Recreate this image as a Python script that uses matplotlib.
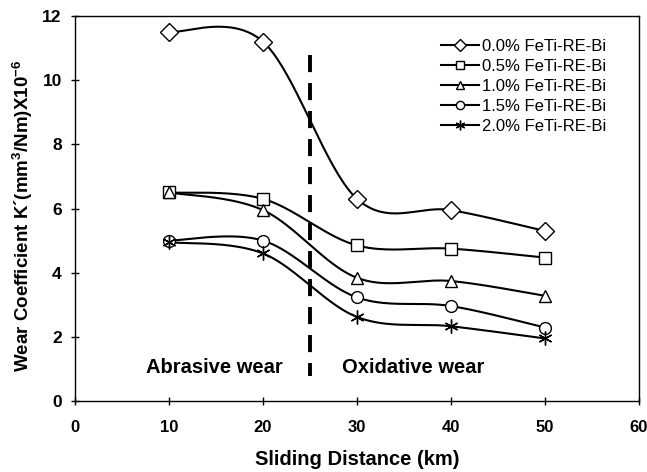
import numpy as np
import matplotlib
matplotlib.use("Agg")
import matplotlib.pyplot as plt

plt.rcParams['font.family'] = ['Liberation Sans', 'DejaVu Sans']
plt.rcParams['mathtext.fontset'] = 'custom'
plt.rcParams['mathtext.rm'] = 'Liberation Sans:bold'
plt.rcParams['mathtext.default'] = 'rm'

distance = [10, 20, 30, 40, 50]
series_labels = ['0.0% FeTi-RE-Bi', '0.5% FeTi-RE-Bi', '1.0% FeTi-RE-Bi',
                 '1.5% FeTi-RE-Bi', '2.0% FeTi-RE-Bi']
k_00 = [11.5, 11.2, 6.3, 5.95, 5.3]
k_05 = [6.5, 6.3, 4.85, 4.75, 4.47]
k_10 = [6.5, 5.95, 3.84, 3.74, 3.28]
k_15 = [5.0, 5.0, 3.23, 2.96, 2.29]
k_20 = [4.95, 4.6, 2.62, 2.33, 1.95]
series = [k_00, k_05, k_10, k_15, k_20]
markers = ['D', 's', '^', 'o', (6, 2, 0)]
msizes = [9, 8, 8.5, 8.5, 10]

boundary_x = 25
xticks = [0, 10, 20, 30, 40, 50, 60]
yticks = [0, 2, 4, 6, 8, 10, 12]


def smooth(x, y, n=40):
    x = np.asarray(x, float); y = np.asarray(y, float)
    px = np.concatenate([[x[0]], x, [x[-1]]])
    py = np.concatenate([[y[0]], y, [y[-1]]])
    xs, ys = [], []
    t = np.linspace(0, 1, n)
    h00 = 2*t**3 - 3*t**2 + 1
    h10 = t**3 - 2*t**2 + t
    h01 = -2*t**3 + 3*t**2
    h11 = t**3 - t**2
    for i in range(1, len(px) - 2):
        mx0 = (px[i+1] - px[i-1]) / 2; mx1 = (px[i+2] - px[i]) / 2
        my0 = (py[i+1] - py[i-1]) / 2; my1 = (py[i+2] - py[i]) / 2
        xs.append(h00*px[i] + h10*mx0 + h01*px[i+1] + h11*mx1)
        ys.append(h00*py[i] + h10*my0 + h01*py[i+1] + h11*my1)
    return np.concatenate(xs), np.concatenate(ys)


fig = plt.figure(figsize=(6.47, 4.72), dpi=100)
ax = fig.add_axes([0.1159, 0.1504, 0.8717, 0.8157])

for vals, lab, mk, ms in zip(series, series_labels, markers, msizes):
    sx, sy = smooth(distance, vals)
    ax.plot(sx, sy, color='black', lw=1.5, zorder=2)
    ax.plot(distance, vals, linestyle='none', marker=mk, ms=ms,
            mfc='white', mec='black', mew=1.0, zorder=3)
    ax.plot([], [], color='black', lw=1.5, marker=mk, ms=ms,
            mfc='white', mec='black', mew=1.0, label=lab)

ax.plot([boundary_x, boundary_x], [10.78, 0.78], color='black', lw=2.8,
        linestyle=(0, (4.4, 2.8)), zorder=1)

ax.text(14.8, 1.06, 'Abrasive wear', fontsize=14.5, fontweight='bold',
        ha='center', va='center')
ax.text(36.0, 1.06, 'Oxidative wear', fontsize=14.5, fontweight='bold',
        ha='center', va='center')

ax.set_xlim(0, 60)
ax.set_ylim(0, 12)
ax.set_xticks(xticks)
ax.set_yticks(yticks)
ax.tick_params(direction='inout', length=6, width=1)
ax.tick_params(axis='x', pad=11, labelsize=12)
ax.tick_params(axis='y', pad=6.5, labelsize=12.5)
for lbl in ax.get_xticklabels() + ax.get_yticklabels():
    lbl.set_fontweight('bold')
for sp in ax.spines.values():
    sp.set_linewidth(1.0)

ax.set_xlabel('Sliding Distance (km)', fontsize=14.5, fontweight='bold')
ax.xaxis.set_label_coords(0.5, -0.127)
ax.set_ylabel("Wear Coefficient K\u00b4(mm$^{3}$/Nm)X10$^{-6}$", fontsize=13.5,
              fontweight='bold')
ax.yaxis.set_label_coords(-0.071, 0.48)

leg = ax.legend(loc='upper left', bbox_to_anchor=(0.649, 0.94), frameon=False,
                fontsize=12, handlelength=2.3, handletextpad=0.15,
                labelspacing=0.3, borderaxespad=0, borderpad=0,
                markerscale=0.7)

fig.savefig('out.png', dpi=100)
